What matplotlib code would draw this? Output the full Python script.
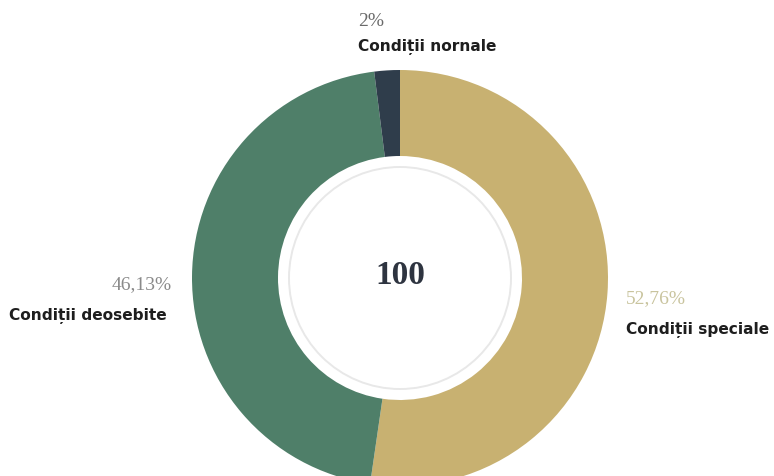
import matplotlib
matplotlib.use('Agg')
import matplotlib.pyplot as plt
from matplotlib.patches import Circle

# Chart data
categories = ['Condiții speciale', 'Condiții deosebite', 'Condiții nornale']
values = [52.76, 46.13, 2]
pct_labels = ['52,76%', '46,13%', '2%']
colors = ['#C8B171', '#4F7F69', '#2F3D4B']
total_label = '100'

W, H = 774, 476
fig = plt.figure(figsize=(W / 100, H / 100), dpi=100)
ax = fig.add_axes([0, 0, 1, 1])

# Donut, starting at 12 o'clock going clockwise
cx, cy = 400, H - 278
r_out = 208
ring_w = 86
ax.pie(values, colors=colors, center=(cx, cy), radius=r_out, startangle=90,
       counterclock=False, wedgeprops=dict(width=ring_w, edgecolor='none'),
       frame=True)
ax.set_xlim(0, W)
ax.set_ylim(0, H)
ax.set_aspect('equal')
ax.axis('off')

# thin grey ring inside the hole
ax.add_patch(Circle((cx, cy), 111, fill=False, edgecolor='#E8E8E8', linewidth=1.4))
ax.text(cx, cy + 2, total_label, ha='center', va='center', fontsize=24,
        fontweight='bold', family='Liberation Serif', color='#2E3440')

# Labels: (x, y of percent, y of name, alignment) in pixels from top
label_pos = [(626, 299, 330, 'left'), (172, 285, 316, 'right'), (358, 21, 47, 'left')]
pct_colors = ['#C9C49E', '#8A8A8A', '#6A6A6A']
for i, (x, y_pct, y_name, ha) in enumerate(label_pos):
    ax.text(x, H - y_pct, pct_labels[i], ha=ha, va='center', fontsize=14,
            family='Liberation Serif', color=pct_colors[i])
    name_x = x if ha == 'left' else 9
    ax.text(name_x, H - y_name, categories[i], ha='left', va='center',
            fontsize=11.1, fontweight='bold', family='DejaVu Sans', color='#1E1E1E')

fig.savefig('out.png', dpi=100)
